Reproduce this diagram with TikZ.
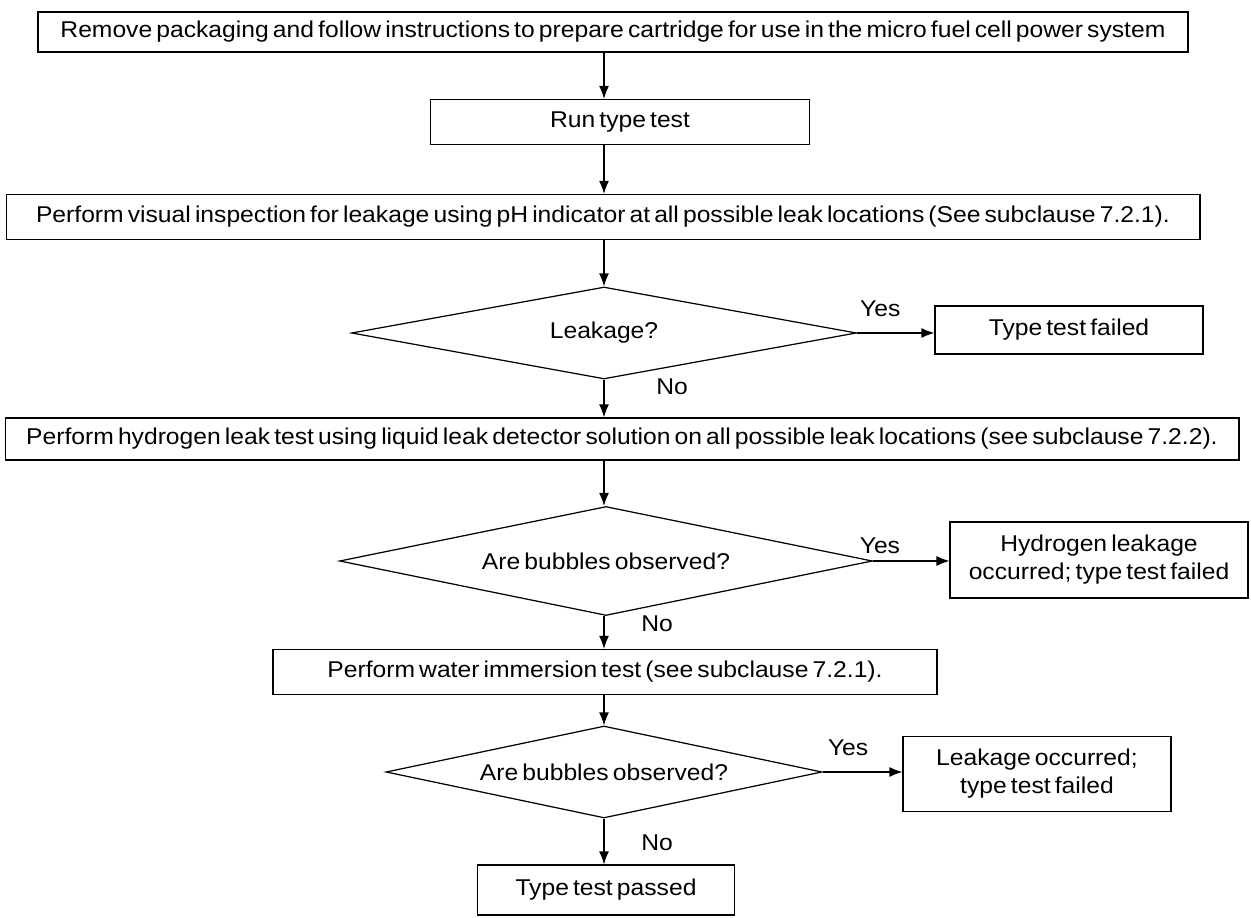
\documentclass[tikz,border=0pt]{standalone}
\usepackage{fontspec}
\setmainfont[FakeStretch=1.08, WordSpace=0.6]{Liberation Sans}
\usetikzlibrary{positioning, arrows.meta, shapes.geometric}
\tikzset{pbox/.style={draw, line width=0.7pt, inner sep=2pt, align=center, font=\fontsize{13}{16}\selectfont}}
\tikzset{decision/.style={pbox, diamond, inner sep=0pt}}
\tikzset{arr/.style={draw, line width=0.7pt, -{Latex[length=2.6mm, width=2mm]}}}
\tikzset{lbl/.style={font=\fontsize{13}{16}\selectfont, inner sep=1pt}}

\begin{document}
\begin{tikzpicture}[x=0.02cm, y=-0.02cm]
	\useasboundingbox (0,0) rectangle (1251,918);
	% main column
	\node[pbox, minimum width=23cm, minimum height=0.8cm] (prep) at (613,32)
		{Remove packaging and follow instructions to prepare cartridge for use in the micro fuel cell power system};
	\node[pbox, minimum width=7.58cm, minimum height=0.9cm] (run) at (620,122) {Run type test};
	\node[pbox, minimum width=23.88cm, minimum height=0.9cm] (visual) at (603,217)
		{Perform visual inspection for leakage using pH indicator at all possible leak locations (See subclause 7.2.1).};
	\node[decision, aspect=5.5, minimum width=10.1cm, minimum height=1.84cm] (leak) at (604,333) {Leakage?};
	\node[pbox, minimum width=24.68cm, minimum height=0.84cm] (hydro) at (622,439)
		{Perform hydrogen leak test using liquid leak detector solution on all possible leak locations (see subclause 7.2.2).};
	\node[decision, aspect=4.9, minimum width=10.66cm, minimum height=2.18cm] (bubA) at (606,561) {Are bubbles observed?};
	\node[pbox, minimum width=13.28cm, minimum height=0.9cm] (water) at (605,672)
		{Perform water immersion test (see subclause 7.2.1).};
	\node[decision, aspect=4.7, minimum width=8.72cm, minimum height=1.84cm] (bubB) at (604,772) {Are bubbles observed?};
	\node[pbox, minimum width=5.14cm, minimum height=1cm] (passed) at (606,890) {Type test passed};
	% failure boxes
	\node[pbox, minimum width=5.36cm, minimum height=0.96cm] (failA) at (1069,330) {Type test failed};
	\node[pbox, minimum width=5.96cm, minimum height=1.52cm] (failB) at (1099,560)
		{Hydrogen leakage\\occurred; type test failed};
	\node[pbox, minimum width=5.36cm, minimum height=1.5cm] (failC) at (1037,774)
		{Leakage occurred;\\type test failed};
	%
	\draw[arr] (prep.south -| leak) -- (run.north -| leak);
	\draw[arr] (run.south -| leak) -- (visual.north -| leak);
	\draw[arr] (visual.south -| leak) -- (leak.north);
	\draw[arr] (leak.south) -- node[lbl, pos=0.2, right=1.0cm] {No} (hydro.north -| leak);
	\draw[arr] (hydro.south -| leak) -- (bubA.north -| leak);
	\draw[arr] (bubA.south -| leak) -- node[lbl, pos=0.23, right=0.7cm] {No} (water.north -| leak);
	\draw[arr] (water.south -| leak) -- (bubB.north);
	\draw[arr] (bubB.south) -- node[lbl, pos=0.53, right=0.7cm] {No} (passed.north -| leak);
	%
	\draw[arr] (leak.east) -- node[lbl, pos=0.3, above=0.28cm] {Yes} (failA.west |- leak.east);
	\draw[arr] (bubA.east) -- node[lbl, pos=0.09, above=0.1cm] {Yes} (failB.west |- bubA.east);
	\draw[arr] (bubB.east) -- node[lbl, pos=0.32, above=0.28cm] {Yes} (failC.west |- bubB.east);
\end{tikzpicture}
\end{document}
